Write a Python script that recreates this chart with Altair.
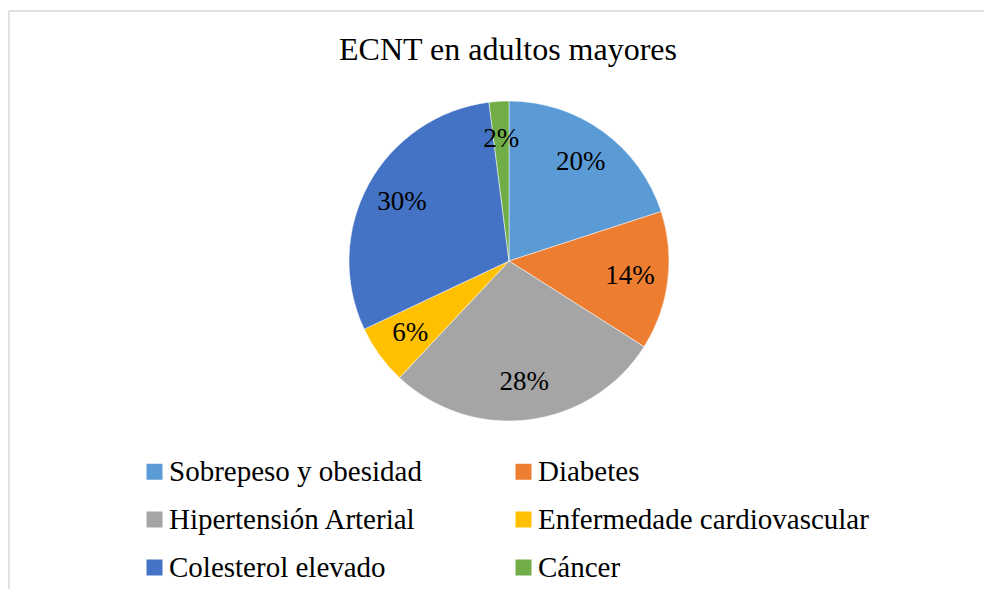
import altair as alt
import pandas as pd

TITLE = "ECNT en adultos mayores"
categories = [
    "Sobrepeso y obesidad",
    "Diabetes",
    "Hipertensión Arterial",
    "Enfermedade cardiovascular",
    "Colesterol elevado",
    "Cáncer",
]
values = [20, 14, 28, 6, 30, 2]
colors = ["#5B9BD5", "#ED7D31", "#A5A5A5", "#FFC000", "#4472C4", "#70AD47"]

df = pd.DataFrame({
    "cat": categories,
    "value": values,
    "idx": list(range(len(categories))),
    "label": [f"{v}%" for v in values],
})

W, H = 975, 578
CX, CY = 500, 250
FONT = "Liberation Serif"

base = alt.Chart(df).encode(
    theta=alt.Theta("value:Q", stack=True),
    order=alt.Order("idx:Q"),
)

pie = base.mark_arc(radius=160, stroke="white", strokeWidth=0.5).encode(
    x=alt.value(CX),
    y=alt.value(CY),
    color=alt.Color(
        "cat:N",
        scale=alt.Scale(domain=categories, range=colors),
        sort=categories,
        legend=alt.Legend(
            title=None,
            orient="none",
            direction="horizontal",
            legendX=131,
            legendY=446,
            columns=2,
            columnPadding=87,
            rowPadding=18,
            padding=0,
            symbolType="square",
            symbolSize=256,
            symbolStrokeWidth=0,
            labelFont=FONT,
            labelFontSize=29,
            labelColor="#000000",
            labelOffset=0,
            labelLimit=0,
        ),
    ),
)

labels = base.mark_text(
    radius=122, font=FONT, fontSize=27, color="#000000", baseline="middle", align="center"
).encode(
    x=alt.value(CX),
    y=alt.value(CY),
    text="label:N",
)

title = alt.Chart(pd.DataFrame({"t": [TITLE]})).mark_text(
    font=FONT, fontSize=32, color="#000000", baseline="middle", align="center"
).encode(x=alt.value(499), y=alt.value(39), text="t:N")

border_top = alt.Chart(pd.DataFrame({"a": [0]})).mark_rule(color="#d9d9d9", strokeWidth=1.5).encode(
    x=alt.value(0), x2=alt.value(W), y=alt.value(0)
)
border_left = alt.Chart(pd.DataFrame({"a": [0]})).mark_rule(color="#d9d9d9", strokeWidth=1.5).encode(
    x=alt.value(0), y=alt.value(0), y2=alt.value(H)
)

chart = alt.layer(border_top, border_left, pie, labels, title).properties(
    width=W,
    height=H,
    autosize=alt.AutoSizeParams(type="none"),
    padding={"left": 1, "top": 3, "right": 0, "bottom": 0},
).configure_view(stroke=None)

chart.save("out.html", embed_options={"renderer": "svg", "actions": False})
